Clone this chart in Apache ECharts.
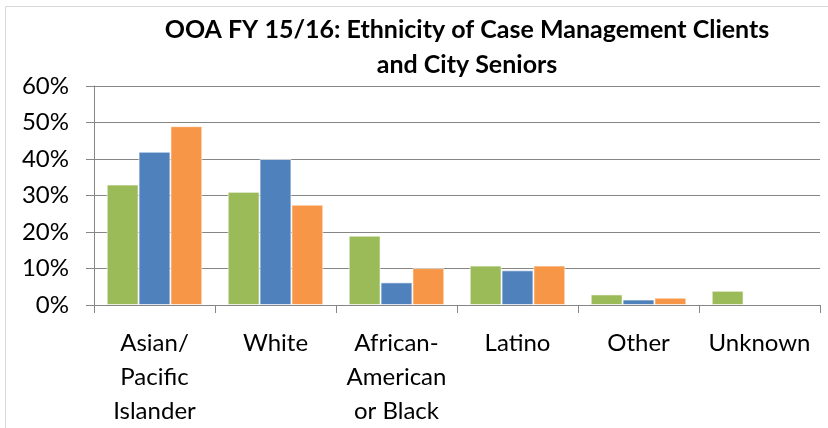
<!DOCTYPE html>
<html><head><meta charset="utf-8">
<script src="https://cdn.jsdelivr.net/npm/echarts@6/dist/echarts.min.js"></script>
<style>html,body{margin:0;padding:0;background:#fff}#c{width:828px;height:428px}</style>
</head><body><div id="c"></div>
<script>
const categories = ['Asian/\nPacific\nIslander', 'White', 'African-\nAmerican\nor Black', 'Latino', 'Other', 'Unknown'];
const seriesGreen = [33, 31, 19, 10.8, 2.9, 3.9];
const seriesBlue = [42, 40, 6.2, 9.5, 1.5, null];
const seriesOrange = [49, 27.5, 10.1, 10.8, 2, null];
const yTicks = [0, 10, 20, 30, 40, 50, 60];

const FONT = 'Lato';
const chart = echarts.init(document.getElementById('c'), null, {renderer: 'canvas'});
function bar(name, data, color) {
  return {
    name, type: 'bar', data, barGap: '0%', barCategoryGap: '21%',
    itemStyle: {color, borderColor: 'rgba(255,255,255,0.6)', borderWidth: 1},
    emphasis: {disabled: true}
  };
}
chart.setOption({
  animation: false,
  title: {
    text: 'OOA FY 15/16: Ethnicity of Case Management Clients\nand City Seniors',
    left: 462, top: 7, textAlign: 'center',
    textStyle: {fontFamily: FONT, fontSize: 25, fontWeight: 'bold', color: '#000', lineHeight: 35}
  },
  graphic: [{type: 'rect', shape: {x: 5.5, y: 6.5, width: 840, height: 440},
    style: {fill: 'none', stroke: '#d9d9d9', lineWidth: 1}, silent: true}],
  grid: {left: 94, right: 8, top: 86, bottom: 123},
  xAxis: {
    type: 'category', data: categories,
    axisLine: {lineStyle: {color: '#868686'}},
    axisTick: {show: true, length: 8, lineStyle: {color: '#868686'}},
    axisLabel: {fontFamily: FONT, fontSize: 24, color: '#000', lineHeight: 34, margin: 21, interval: 0}
  },
  yAxis: {
    type: 'value', min: 0, max: 60, interval: 10,
    axisLine: {show: true, lineStyle: {color: '#868686'}},
    axisTick: {show: true, length: 8, inside: false, lineStyle: {color: '#868686'}},
    splitLine: {lineStyle: {color: '#868686'}},
    axisLabel: {fontFamily: FONT, fontSize: 24, color: '#000', margin: 25,
      formatter: v => yTicks.includes(v) ? v + '%' : ''}
  },
  series: [bar('Case Mgmt', seriesGreen, '#9BBB59'), bar('B', seriesBlue, '#4F81BD'), bar('C', seriesOrange, '#F79646')]
});
</script></body></html>
